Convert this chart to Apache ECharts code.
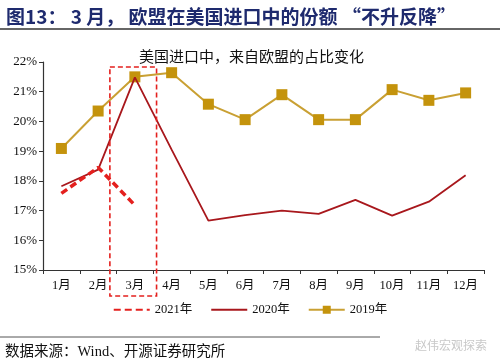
<!DOCTYPE html>
<html><head><meta charset="utf-8">
<script src="https://cdn.jsdelivr.net/npm/echarts@6/dist/echarts.min.js"></script>
<style>html,body{margin:0;padding:0;background:#fff}#c{width:500px;height:362px}</style>
</head><body><div id="c"></div>
<script>
var categories = ['1月','2月','3月','4月','5月','6月','7月','8月','9月','10月','11月','12月'];
var s2021 = [17.58, 18.45, 17.18, null, null, null, null, null, null, null, null, null];
var s2020 = [17.82, 18.38, 21.48, 19.05, 16.66, 16.85, 17.0, 16.89, 17.36, 16.83, 17.3, 18.19];
var s2019 = [19.09, 20.35, 21.5, 21.64, 20.58, 20.06, 20.9, 20.06, 20.06, 21.07, 20.71, 20.96];
var yTicks = [15, 16, 17, 18, 19, 20, 21, 22];

var serif = '"Liberation Serif","Noto Sans CJK SC",serif';
var chart = echarts.init(document.getElementById('c'));
var option = {
  animation: false,
  grid: {left: 43, right: 16, top: 62, bottom: 92},
  title: [{
    text: '图13： 3 月， 欧盟在美国进口中的份额 “不升反降”',
    left: 1, top: 2,
    textStyle: {fontFamily: '"Noto Sans CJK SC"', fontSize: 19, fontWeight: 'bold', color: '#1E2A6E'}
  },{
    text: '美国进口中，来自欧盟的占比变化',
    left: 134, top: 44,
    textStyle: {fontFamily: '"Noto Sans CJK SC"', fontSize: 15, fontWeight: 'normal', color: '#111'}
  },{
    text: '数据来源：Wind、开源证券研究所',
    left: 0, top: 340,
    textStyle: {fontFamily: serif, fontSize: 14.5, fontWeight: 'normal', color: '#111'}
  },{
    text: '赵伟宏观探索',
    left: 410, top: 334,
    textStyle: {fontFamily: '"Noto Sans CJK SC"', fontSize: 12, fontWeight: 'normal', color: '#c8c8c8'}
  }],
  legend: {
    bottom: 41, left: 'center',
    itemWidth: 36, itemHeight: 10, itemGap: 18,
    textStyle: {fontFamily: serif, fontSize: 12.5, color: '#111'},
    data: [
      {name: '2021年', itemStyle: {opacity: 0}},
      {name: '2020年', itemStyle: {opacity: 0}},
      {name: '2019年'}
    ]
  },
  xAxis: {
    type: 'category', data: categories, boundaryGap: true,
    axisLine: {lineStyle: {color: '#333', width: 1.2}},
    axisTick: {show: true, alignWithLabel: false, length: 4, lineStyle: {color: '#333'}},
    axisLabel: {fontFamily: serif, fontSize: 12.5, color: '#111', margin: 9},
    splitLine: {show: false}
  },
  yAxis: {
    type: 'value', min: 15, max: 22, interval: 1,
    axisLine: {show: true, lineStyle: {color: '#333', width: 1.2}},
    axisTick: {show: true, length: 4, lineStyle: {color: '#333'}},
    axisLabel: {fontFamily: serif, fontSize: 13, color: '#111', margin: 6, formatter: function(v){return v + '%';}},
    splitLine: {show: false}
  },
  series: [{
    name: '2021年', type: 'line', data: s2021, symbol: 'none',
    lineStyle: {color: '#E4201E', width: 3.5, type: [7, 4]},
    itemStyle: {color: '#E4201E'}, z: 4
  },{
    name: '2020年', type: 'line', data: s2020, symbol: 'none',
    lineStyle: {color: '#A8171C', width: 1.8},
    itemStyle: {color: '#A8171C'}, z: 3
  },{
    name: '2019年', type: 'line', data: s2019, symbol: 'rect', symbolSize: 11,
    lineStyle: {color: '#C9A033', width: 2},
    itemStyle: {color: '#C4930C'}, z: 2
  }]
};
chart.setOption(option);

var x3 = chart.convertToPixel({xAxisIndex: 0}, '3月');
var x4 = chart.convertToPixel({xAxisIndex: 0}, '4月');
var band = x4 - x3;
var yTop = chart.convertToPixel({yAxisIndex: 0}, 21.83);
var yBase = chart.convertToPixel({yAxisIndex: 0}, 15);
chart.setOption({
  graphic: [{
    type: 'rect',
    shape: {x: x3 - 0.68 * band, y: yTop, width: 1.27 * band, height: yBase + 26 - yTop},
    style: {fill: 'none', stroke: '#E4201E', lineWidth: 1.6, lineDash: [5, 3]},
    z: 10
  },{
    type: 'line',
    shape: {x1: 0, y1: 29, x2: 500, y2: 29},
    style: {stroke: '#333', lineWidth: 1.5}
  },{
    type: 'line',
    shape: {x1: 0, y1: 337, x2: 380, y2: 337},
    style: {stroke: '#555', lineWidth: 1}
  }]
});
</script></body></html>
